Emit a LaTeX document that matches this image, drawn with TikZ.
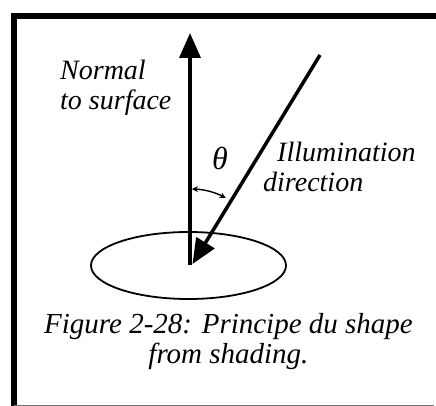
\documentclass[tikz,border=0pt]{standalone}
\usepackage{fontspec}
\setmainfont{Liberation Serif}
\usetikzlibrary{arrows.meta,shapes.geometric}
\begin{document}
\begin{tikzpicture}[x=1pt,y=1pt,
  lbl/.style={font=\fontsize{28}{30}\selectfont\itshape, inner sep=0pt, anchor=base west},
  captext/.style={font=\fontsize{29}{30}\selectfont\itshape, inner sep=0pt, anchor=base},
  vec/.style={line width=3.5pt, -{Triangle[length=25pt,width=21pt]}},
  framestyle/.style={line width=6pt, line cap=butt}]
\useasboundingbox (0,0) rectangle (436,-406);
% frame
\draw[framestyle] (14,-406) -- (14,-16) -- (436,-16);
\draw[line width=1pt, black!55] (14,-405.5) -- (434,-405.5);
% geometry
\coordinate (O) at (190,-265);
\coordinate (N) at (190,-33);
\coordinate (L) at (320,-55);
\coordinate (T) at (192.5,-264);
\node[ellipse, draw, line width=1.8pt, minimum width=195pt, minimum height=67pt, inner sep=0pt] (surf) at (188.5,-265.5) {};
\draw[vec] (O) -- (N);
\draw[vec] (L) -- (T);
\draw[line width=1.4pt, {Stealth[length=6pt,width=6pt]}-{Stealth[length=6pt,width=6pt]}] ([shift={(88.5:76)}]O) arc (88.5:62:76);
% labels
\node[lbl] (n1) at (60,-80) {Normal};
\node[lbl] (n2) at (60,-110) {to surface};
\node[font=\fontsize{32}{32}\selectfont\itshape, inner sep=0pt] (th) at (220,-158) {θ};
\node[lbl] (i1) at (277,-162) {Illumination};
\node[lbl] (i2) at (263,-192) {direction};
\node[captext] (c1) at (228.5,-333) {Figure 2-28: Principe du shape};
\node[captext] (c2) at (228.5,-363) {from shading.};
\end{tikzpicture}
\end{document}
